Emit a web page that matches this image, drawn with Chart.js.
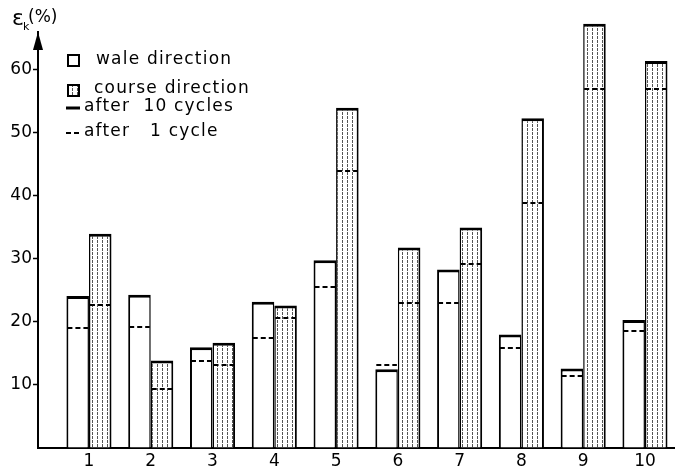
<!DOCTYPE html>
<html>
<head>
<meta charset="utf-8">
<script src="https://cdn.jsdelivr.net/npm/chart.js@4.4.0/dist/chart.umd.min.js"></script>
<style>
  html, body { margin: 0; padding: 0; background: #fff; }
  #wrap { width: 676px; height: 472px; }
</style>
</head>
<body>
<div id="wrap"><canvas id="strainChart" width="676" height="472"></canvas></div>
<script>
// sample numbers 1..10 along the x axis
const categories = ['1', '2', '3', '4', '5', '6', '7', '8', '9', '10'];
// elongation (%)
const waleAfter10 = [24.1, 24.3, 16.0, 23.2, 29.8, 12.5, 28.3, 18.0, 12.6, 20.3];
const waleAfter1 = [19.1, 19.2, 13.8, 17.5, 25.6, 13.1, 23.0, 15.9, 11.5, 18.5];
const courseAfter10 = [34.0, 13.9, 16.7, 22.6, 54.0, 31.8, 35.0, 52.3, 67.3, 61.4];
const courseAfter1 = [22.7, 9.4, 13.2, 20.7, 44.0, 23.0, 29.2, 38.8, 57.0, 56.9];
const yTicks = [10, 20, 30, 40, 50, 60];

const FONT = '"DejaVu Sans", sans-serif';

// vertical dotted hatch for the course bars
function makeHatch() {
  const c = document.createElement('canvas');
  c.width = 5; c.height = 4;
  const g = c.getContext('2d');
  g.fillStyle = '#fff';
  g.fillRect(0, 0, 5, 4);
  g.fillStyle = '#555';
  g.fillRect(2, 0, 1, 3);
  return g.createPattern(c, 'repeat');
}
const hatch = makeHatch();

// dashed "after 1 cycle" marks inside each bar
const afterOnePlugin = {
  id: 'afterOne',
  afterDatasetsDraw(chart) {
    const ctx = chart.ctx;
    const y = chart.scales.y;
    const series = [waleAfter1, courseAfter1];
    ctx.save();
    ctx.strokeStyle = '#000';
    ctx.lineWidth = 2;
    ctx.setLineDash([5, 3]);
    series.forEach((vals, di) => {
      const meta = chart.getDatasetMeta(di);
      meta.data.forEach((bar, j) => {
        const py = Math.round(y.getPixelForValue(vals[j]));
        ctx.beginPath();
        ctx.moveTo(bar.x - bar.width / 2 + 1, py);
        ctx.lineTo(bar.x + bar.width / 2 - 1, py);
        ctx.stroke();
      });
    });
    ctx.restore();
  }
};

// axis arrow, axis title and the legend block
const decorPlugin = {
  id: 'decor',
  afterDraw(chart) {
    const ctx = chart.ctx;
    const area = chart.chartArea;
    const ax = area.left;
    ctx.save();
    ctx.fillStyle = '#000';
    ctx.beginPath();
    ctx.moveTo(ax, area.top);
    ctx.lineTo(ax - 5, area.top + 18);
    ctx.lineTo(ax + 5, area.top + 18);
    ctx.closePath();
    ctx.fill();

    ctx.textBaseline = 'middle';
    ctx.textAlign = 'left';
    ctx.font = '22px ' + FONT;
    ctx.fillText('ε', ax - 26, area.top - 13);
    ctx.font = '11px ' + FONT;
    ctx.fillText('k', ax - 15, area.top - 5);
    ctx.font = '17px ' + FONT;
    ctx.fillText('(%)', ax - 10, area.top - 14);

    // legend
    const lx = ax + 30;
    ctx.letterSpacing = '1.2px';
    ctx.font = '17px ' + FONT;
    ctx.lineWidth = 2;
    ctx.strokeStyle = '#000';
    ctx.fillStyle = '#fff';
    ctx.fillRect(lx, 55, 11, 11);
    ctx.strokeRect(lx, 55, 11, 11);
    ctx.fillStyle = hatch;
    ctx.fillRect(lx, 85, 11, 11);
    ctx.strokeRect(lx, 85, 11, 11);
    ctx.fillStyle = '#000';
    ctx.fillText('wale direction', lx + 28, 60);
    ctx.fillText('course direction', lx + 26, 89);

    ctx.lineWidth = 3;
    ctx.beginPath();
    ctx.moveTo(lx - 2, 108);
    ctx.lineTo(lx + 12, 108);
    ctx.stroke();
    ctx.fillText('after  10 cycles', lx + 16, 107);

    ctx.lineWidth = 2;
    ctx.setLineDash([5, 3]);
    ctx.beginPath();
    ctx.moveTo(lx - 2, 133);
    ctx.lineTo(lx + 12, 133);
    ctx.stroke();
    ctx.setLineDash([]);
    ctx.fillText('after   1 cycle', lx + 16, 132);
    ctx.restore();
  }
};

const ctx = document.getElementById('strainChart').getContext('2d');
new Chart(ctx, {
  type: 'bar',
  data: {
    datasets: [
      {
        label: 'wale direction',
        data: waleAfter10.map((v, i) => ({ x: i + 1, y: v })),
        backgroundColor: '#fff',
        borderColor: '#000',
        borderWidth: { top: 3, left: 2, right: 1.5, bottom: 0 },
        borderSkipped: false
      },
      {
        label: 'course direction',
        data: courseAfter10.map((v, i) => ({ x: i + 1, y: v })),
        backgroundColor: hatch,
        borderColor: '#000',
        borderWidth: { top: 3, left: 1.5, right: 2, bottom: 0 },
        borderSkipped: false,
        clip: false
      }
    ]
  },
  options: {
    responsive: false,
    animation: false,
    categoryPercentage: 0.73,
    barPercentage: 1.0,
    layout: { padding: { top: 32, right: 2, left: 0, bottom: 0 } },
    plugins: {
      legend: { display: false },
      tooltip: { enabled: false }
    },
    scales: {
      x: {
        type: 'linear',
        offset: false,
        min: 0.175,
        max: 10.47,
        afterFit: s => { s.height = 24; },
        grid: { display: false, drawTicks: false },
        border: { display: true, color: '#000', width: 2 },
        ticks: {
          stepSize: 1,
          includeBounds: false,
          padding: 3,
          color: '#000',
          font: { family: FONT, size: 17 },
          callback: v => categories[v - 1] || ''
        }
      },
      y: {
        min: 0,
        max: 66,
        afterFit: s => { s.width = 38; },
        grid: {
          drawOnChartArea: false,
          tickLength: 5,
          tickWidth: 1.5,
          tickColor: c => yTicks.includes(c.tick && c.tick.value) ? '#000' : 'rgba(0,0,0,0)'
        },
        border: { display: true, color: '#000', width: 2 },
        ticks: {
          stepSize: 10,
          padding: 1,
          color: '#000',
          font: { family: FONT, size: 17 },
          callback: v => yTicks.includes(v) ? String(v) : ''
        }
      }
    }
  },
  plugins: [afterOnePlugin, decorPlugin]
});
</script>
</body>
</html>
